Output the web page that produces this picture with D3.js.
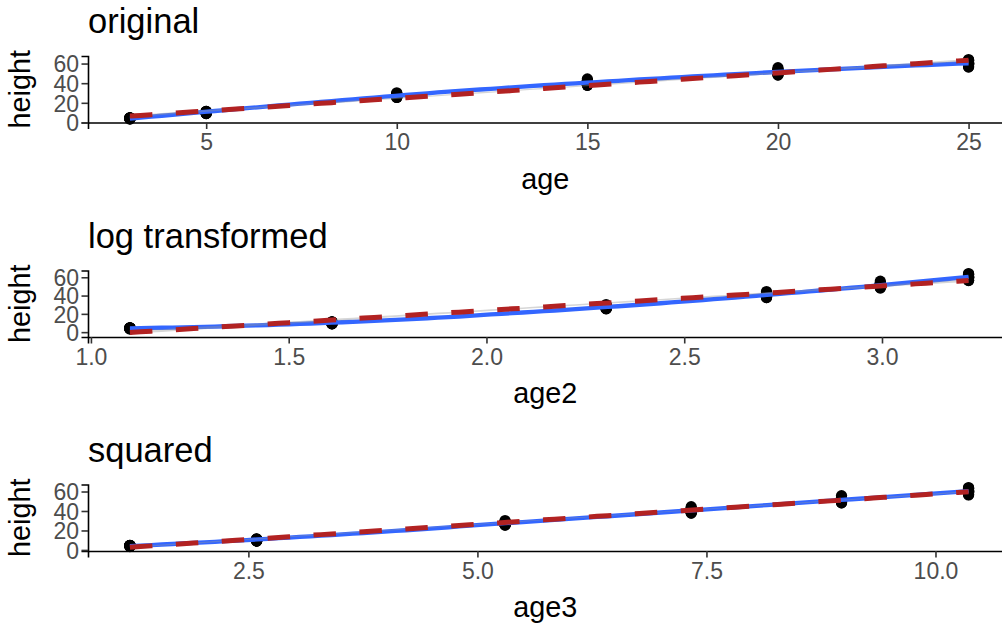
<!DOCTYPE html>
<html>
<head>
<meta charset="utf-8">
<script src="https://cdn.jsdelivr.net/npm/d3@7"></script>
<style>
  body { margin: 0; background: #fff; }
  svg { display: block; }
  text { font-family: "Liberation Sans", Arial, sans-serif; }
</style>
</head>
<body>
<svg id="chart" width="1002" height="623"></svg>
<script>
// Loblolly pine heights, one entry per seed, grouped by age
const ages = [3, 5, 10, 15, 20, 25];
const h3  = [4.51, 4.55, 4.79, 3.91, 4.81, 3.88, 4.32, 4.57, 3.77, 4.33, 4.38, 4.12, 3.93, 3.46];
const h5  = [10.89, 10.92, 11.37, 9.48, 11.20, 9.40, 10.43, 10.57, 9.03, 10.79, 10.48, 9.92, 9.34, 9.05];
const h10 = [28.72, 29.07, 30.21, 25.66, 28.66, 25.99, 27.16, 27.90, 25.45, 28.97, 27.93, 26.54, 26.08, 25.85];
const h15 = [41.74, 42.83, 44.40, 39.07, 41.66, 39.55, 40.85, 41.13, 38.98, 42.44, 40.20, 37.82, 37.79, 39.15];
const h20 = [52.70, 53.88, 55.82, 50.78, 53.31, 51.46, 51.33, 52.43, 49.76, 53.17, 50.06, 48.43, 48.31, 49.12];
const h25 = [60.92, 63.39, 64.10, 59.07, 63.05, 59.64, 60.07, 60.69, 60.28, 61.62, 58.49, 56.81, 56.43, 59.49];
const heightsByAge = [h3, h5, h10, h15, h20, h25];

const titles = ["original", "log transformed", "squared"];
const xTitles = ["age", "age2", "age3"];
const xTickValues = [[5, 10, 15, 20, 25], [1.0, 1.5, 2.0, 2.5, 3.0], [2.5, 5.0, 7.5, 10.0]];
const xTickFormats = ["d", ".1f", ".1f"];
const yTickValues = [0, 20, 40, 60];

// the three x variables
const transforms = [
	(a) => a,
	(a) => Math.log(a),
	(a) => Math.log(a) * Math.log(a),
];

const rows = [];
ages.forEach((a, i) => heightsByAge[i].forEach((h) => rows.push({ age: a, height: h })));

const svg = d3.select("#chart");
const left = 88, right = 1010.5;
const panelTop = [56, 270.5, 484.5];
const panelH = 66.5;

// local quadratic loess (span 0.75, tricube weights), like geom_smooth's default
function loessRow(xs, x0, span) {
	const n = xs.length;
	const q = Math.floor(n * span);
	const d = xs.map((x) => Math.abs(x - x0));
	const h = d.slice().sort((a, b) => a - b)[q - 1];
	const w = d.map((v) => (v < h ? Math.pow(1 - Math.pow(v / h, 3), 3) : 0));
	// X'WX for basis [1, u, u^2]
	const m = [[0, 0, 0], [0, 0, 0], [0, 0, 0]];
	xs.forEach((x, i) => {
		const u = x - x0;
		const b = [1, u, u * u];
		for (let r = 0; r < 3; r++) for (let c = 0; c < 3; c++) m[r][c] += w[i] * b[r] * b[c];
	});
	const inv = invert3(m);
	return xs.map((x, i) => {
		const u = x - x0;
		return w[i] * (inv[0][0] + inv[0][1] * u + inv[0][2] * u * u);
	});
}

function invert3(m) {
	const [a, b, c] = m[0], [d, e, f] = m[1], [g, h, i] = m[2];
	const A = e * i - f * h, B = -(d * i - f * g), C = d * h - e * g;
	const det = a * A + b * B + c * C;
	return [
		[A / det, -(b * i - c * h) / det, (b * f - c * e) / det],
		[B / det, (a * i - c * g) / det, -(a * f - c * d) / det],
		[C / det, -(a * h - b * g) / det, (a * e - b * d) / det],
	];
}

function gridOf(xs) {
	const [lo, hi] = d3.extent(xs);
	return d3.range(80).map((k) => lo + (hi - lo) * k / 79);
}

function loessSmooth(xs, ys) {
	const n = xs.length;
	let trL = 0, trLL = 0, rss = 0;
	xs.forEach((x, i) => {
		const l = loessRow(xs, x, 0.75);
		trL += l[i];
		trLL += d3.sum(l, (v) => v * v);
		rss += Math.pow(ys[i] - d3.sum(l, (v, j) => v * ys[j]), 2);
	});
	const sigma = Math.sqrt(rss / (n - 2 * trL + trLL));
	return gridOf(xs).map((x0) => {
		const l = loessRow(xs, x0, 0.75);
		const fit = d3.sum(l, (v, j) => v * ys[j]);
		const se = sigma * Math.sqrt(d3.sum(l, (v) => v * v));
		return { x: x0, y: fit, lo: fit - 1.99 * se, hi: fit + 1.99 * se };
	});
}

function lmSmooth(xs, ys) {
	const n = xs.length;
	const mx = d3.mean(xs), my = d3.mean(ys);
	const sxx = d3.sum(xs, (x) => (x - mx) * (x - mx));
	const slope = d3.sum(xs, (x, i) => (x - mx) * (ys[i] - my)) / sxx;
	const icpt = my - slope * mx;
	const rss = d3.sum(xs, (x, i) => Math.pow(ys[i] - icpt - slope * x, 2));
	const sigma = Math.sqrt(rss / (n - 2));
	return gridOf(xs).map((x0) => {
		const fit = icpt + slope * x0;
		const se = sigma * Math.sqrt(1 / n + (x0 - mx) * (x0 - mx) / sxx);
		return { x: x0, y: fit, lo: fit - 1.989 * se, hi: fit + 1.989 * se };
	});
}

titles.forEach((title, p) => {
	const xs = rows.map((r) => transforms[p](r.age));
	const ys = rows.map((r) => r.height);
	const blue = loessSmooth(xs, ys);
	const red = lmSmooth(xs, ys);

	const xExt = d3.extent(xs);
	const xPad = (xExt[1] - xExt[0]) * 0.05;
	const yExt = d3.extent([...ys, ...blue.map((d) => d.lo), ...blue.map((d) => d.hi),
		...red.map((d) => d.lo), ...red.map((d) => d.hi)]);
	const yPad = (yExt[1] - yExt[0]) * 0.05;

	const top = panelTop[p], bottom = top + panelH;
	const x = d3.scaleLinear([xExt[0] - xPad, xExt[1] + xPad], [left, right]);
	const y = d3.scaleLinear([yExt[0] - yPad, yExt[1] + yPad], [bottom, top]);

	const g = svg.append("g");

	g.append("text")
		.attr("x", left)
		.attr("y", top - 23)
		.attr("font-size", 34.5)
		.attr("fill", "black")
		.text(title);

	g.selectAll("circle")
		.data(rows)
		.join("circle")
		.attr("cx", (d) => x(transforms[p](d.age)))
		.attr("cy", (d) => y(d.height))
		.attr("r", 5.6)
		.attr("fill", "black");

	const area = d3.area().x((d) => x(d.x)).y0((d) => y(d.lo)).y1((d) => y(d.hi));
	const line = d3.line().x((d) => x(d.x)).y((d) => y(d.y));

	g.append("path").attr("d", area(blue)).attr("fill", "#999999").attr("fill-opacity", 0.4);
	g.append("path").attr("d", line(blue)).attr("fill", "none")
		.attr("stroke", "#3366FF").attr("stroke-width", 4.3);
	g.append("path").attr("d", area(red)).attr("fill", "#999999").attr("fill-opacity", 0.4);
	g.append("path").attr("d", line(red)).attr("fill", "none")
		.attr("stroke", "#B22222").attr("stroke-width", 5)
		.attr("stroke-dasharray", "22.5,23.5");

	// axes
	const xAxis = g.append("g")
		.attr("transform", `translate(0,${bottom})`)
		.call(d3.axisBottom(x).tickValues(xTickValues[p]).tickFormat(d3.format(xTickFormats[p]))
			.tickSize(6.5).tickPadding(5));
	const yAxis = g.append("g")
		.attr("transform", `translate(${left},0)`)
		.call(d3.axisLeft(y).tickValues(yTickValues).tickSize(6.5).tickPadding(2.5));
	[xAxis, yAxis].forEach((ax) => {
		ax.select(".domain").attr("stroke", "black").attr("stroke-width", 1.6);
		ax.selectAll(".tick line").attr("stroke", "#333333").attr("stroke-width", 1.6);
		ax.selectAll(".tick text").attr("fill", "#4D4D4D").attr("font-size", 23)
			.attr("font-family", '"Liberation Sans", Arial, sans-serif');
	});
	yAxis.selectAll(".tick text").attr("dy", "0.36em");

	g.append("text")
		.attr("x", (left + right) / 2 - 4)
		.attr("y", bottom + 66)
		.attr("text-anchor", "middle")
		.attr("font-size", 28.8)
		.text(xTitles[p]);

	g.append("text")
		.attr("transform", `translate(30,${(top + bottom) / 2}) rotate(-90)`)
		.attr("text-anchor", "middle")
		.attr("font-size", 28.8)
		.text("height");
});
</script>
</body>
</html>
